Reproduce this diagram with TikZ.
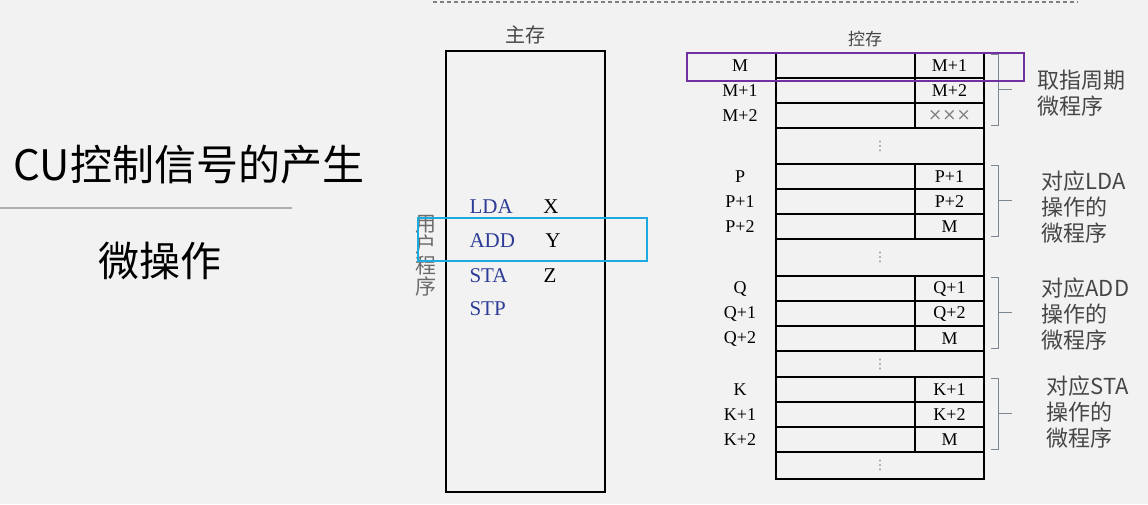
\documentclass[tikz,border=0pt]{standalone}
\usepackage{fontspec}
\setmainfont{Liberation Serif}
\newfontfamily\cjk{Noto Sans CJK SC}
\newfontfamily\symfont{DejaVu Sans}
\usetikzlibrary{positioning}
\definecolor{bggray}{RGB}{242,242,242}
\definecolor{cupurple}{RGB}{112,48,160}
\definecolor{cublue}{RGB}{28,170,225}
\definecolor{insblue}{RGB}{45,60,150}
\definecolor{brgray}{RGB}{125,135,145}
\definecolor{txtgray}{RGB}{70,70,70}
\newcommand{\xxx}{\textcolor{gray}{\symfont\fontsize{17}{17}\selectfont×××}}

\tikzset{
  cell/.style={draw, line width=1.5pt, anchor=north west, minimum height=25pt,
    inner sep=0pt, outer sep=0pt, font=\fontsize{18}{18}\selectfont},
  gapcell/.style={cell, minimum width=208pt, text=gray, font=\symfont\fontsize{13}{13}\selectfont},
  addr/.style={font=\fontsize{18}{18}\selectfont},
  instr/.style={anchor=west, text=insblue, font=\fontsize{21}{21}\selectfont},
  opnd/.style={font=\fontsize{21}{21}\selectfont},
  brlabel/.style={anchor=west, align=left, text=txtgray,
    font=\cjk\fontsize{22}{26}\selectfont},
  bracket/.style={draw=brgray, line width=1pt},
  hilite/.style={line width=2pt}
}

\begin{document}
\begin{tikzpicture}[x=1pt,y=-1pt]
\fill[bggray] (0,0) rectangle (1148,504);
\useasboundingbox (0,0) rectangle (1148,504);

% Title
\node[anchor=west, font=\cjk\fontsize{42}{42}\selectfont] (title) at (10,165) {CU控制信号的产生};
\draw[line width=1.5pt, color={rgb,255:red,170;green,175;blue,180}] (0,208) -- (292,208);
\node[font=\cjk\fontsize{41}{41}\selectfont] (sub) at (160,261) {微操作};

\draw[gray, line width=1.5pt, dash pattern=on 4pt off 3pt] (433,2) -- (1078,2);

% Main memory
\node[draw, line width=2pt, anchor=north west, minimum width=159pt, minimum height=441pt,
  inner sep=0pt] (mainmem) at (445,50) {};
\node[font=\cjk\fontsize{20}{20}\selectfont, text=txtgray, above=2pt of mainmem] (mmlabel) {主存};
\node[align=center, text=txtgray!80, font=\cjk\fontsize{21}{21}\selectfont] (userprog) at (426,256) {用\\户\\程\\序};
\node[instr] (lda) at (466,207) {LDA};
\node[instr] (add) at (466,241) {ADD};
\node[instr] (sta) at (466,276) {STA};
\node[instr] (stp) at (466,309) {STP};
\node[opnd] (opx) at (551,207) {X};
\node[opnd] (opy) at (553,241) {Y};
\node[opnd] (opz) at (550,276) {Z};
\draw[cublue, hilite] (418,218) rectangle (647,261);

% Control memory
\node[font=\cjk\fontsize{17}{17}\selectfont, text=txtgray] (cmlabel) at (865,39) {控存};
\foreach \g/\t/\la/\lb/\lc/\ra/\rb/\rc in {
  m/53/M/M+1/M+2/M+1/M+2/\xxx,
  p/164/P/P+1/P+2/P+1/P+2/M,
  q/276/Q/Q+1/Q+2/Q+1/Q+2/M,
  k/377/K/K+1/K+2/K+1/K+2/M}{
  \node[cell, minimum width=139pt] (\g a) at (776,\t) {};
  \node[cell, minimum width=69pt] (\g ar) at (915,\t) {\ra};
  \node[cell, minimum width=139pt] (\g b) at (776,{\t+25}) {};
  \node[cell, minimum width=69pt] (\g br) at (915,{\t+25}) {\rb};
  \node[cell, minimum width=139pt] (\g c) at (776,{\t+50}) {};
  \node[cell, minimum width=69pt] (\g cr) at (915,{\t+50}) {\rc};
  \node[addr] (\g la) at (740,{\t+12.5}) {\la};
  \node[addr] (\g lb) at (740,{\t+37.5}) {\lb};
  \node[addr] (\g lc) at (740,{\t+62.5}) {\lc};
  % brace
  \draw[bracket] (991,{\t+1}) -- (998,{\t+1}) -- (998,{\t+72}) -- (991,{\t+72});
  \draw[bracket] (998,{\t+36}) -- (1012,{\t+36});
}

% gaps
\foreach \n/\t/\h in {1/128/36, 2/239/37, 3/351/26, 4/452/27}{
  \node[gapcell, minimum height=\h pt] (gap\n) at (776,\t) {⋮};
}

\draw[cupurple, hilite] (687,53) rectangle (1024,81);

\node[brlabel] (fetch) at (1034,93) {取指周期\\微程序};
\node[brlabel] (ldaprog) at (1038,207) {对应LDA\\操作的\\微程序};
\node[brlabel] (addprog) at (1038,314) {对应ADD\\操作的\\微程序};
\node[brlabel] (staprog) at (1043,412) {对应STA\\操作的\\微程序};
\end{tikzpicture}
\end{document}
